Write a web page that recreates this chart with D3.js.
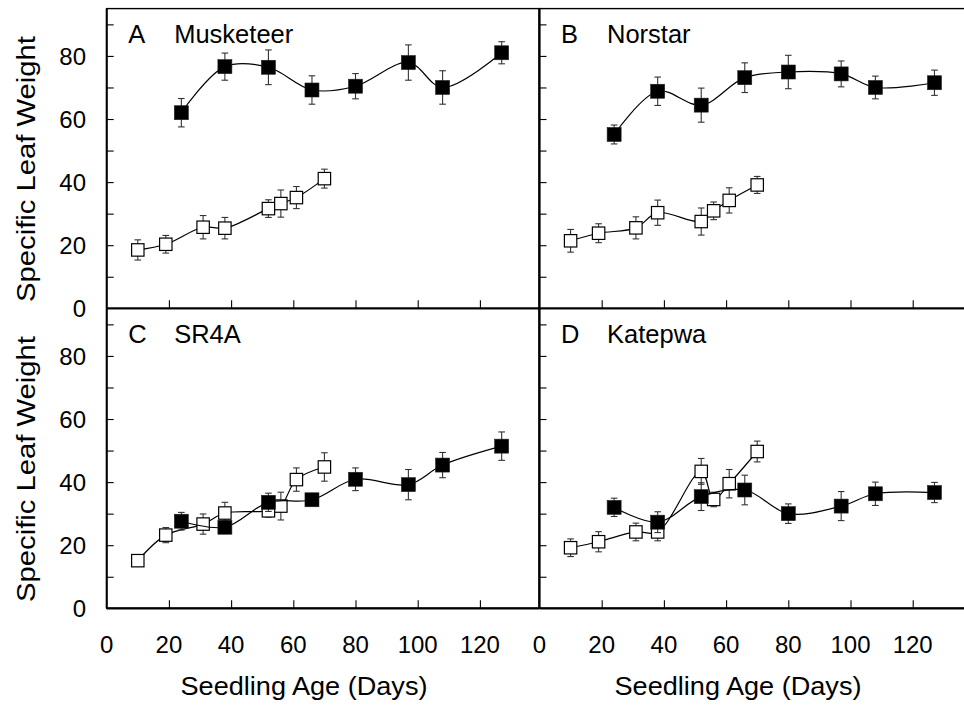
<!DOCTYPE html>
<html>
<head>
<meta charset="utf-8">
<script src="https://cdn.jsdelivr.net/npm/d3@7"></script>
<style>
  html, body { margin: 0; padding: 0; background: #fff; }
  svg { display: block; font-family: "Liberation Sans", Arial, Helvetica, sans-serif; }
</style>
</head>
<body>
<svg id="chart" width="964" height="707"></svg>
<script>
// Seedling age (days) at each sampling
const daysFilled = [24, 38, 52, 66, 80, 97, 108, 127];
const daysOpen   = [10, 19, 31, 38, 52, 56, 61, 70];

// Specific leaf weight, means and error half-widths
const musketeerFilled    = [62.0, 76.6, 76.4, 69.2, 70.4, 77.9, 70.0, 81.0];
const musketeerFilledErr = [4.5, 4.3, 5.5, 4.5, 4.0, 5.6, 5.3, 3.5];
const musketeerOpen      = [18.5, 20.3, 25.7, 25.4, 31.6, 33.2, 35.1, 41.1];
const musketeerOpenErr   = [3.2, 2.8, 3.7, 3.4, 2.8, 4.3, 3.5, 3.0];

const norstarFilled    = [55.1, 68.8, 64.4, 73.1, 74.9, 74.3, 70.0, 71.5];
const norstarFilledErr = [3.0, 4.5, 5.4, 4.7, 5.3, 4.1, 3.6, 4.0];
const norstarOpen      = [21.4, 23.8, 25.5, 30.3, 27.5, 30.9, 34.2, 39.1];
const norstarOpenErr   = [3.6, 3.0, 3.5, 4.0, 4.3, 2.8, 4.0, 2.7];

const sr4aFilled    = [27.6, 25.7, 33.6, 34.4, 40.9, 39.2, 45.4, 51.4];
const sr4aFilledErr = [2.8, 2.0, 2.9, 1.8, 3.6, 4.8, 4.0, 4.5];
const sr4aOpen      = [15.1, 23.2, 26.7, 30.2, 30.9, 32.4, 40.8, 44.8];
const sr4aOpenErr   = [1.5, 2.4, 3.2, 3.4, 2.0, 4.4, 3.7, 4.5];

const katepwaFilled    = [32.0, 27.3, 35.4, 37.5, 30.0, 32.4, 36.3, 36.7];
const katepwaFilledErr = [2.9, 3.3, 4.4, 4.7, 3.1, 4.6, 3.7, 3.2];
const katepwaOpen      = [19.2, 21.1, 24.2, 24.2, 43.4, 34.5, 39.5, 49.7];
const katepwaOpenErr   = [2.8, 3.2, 2.8, 2.8, 4.1, 2.3, 4.5, 3.3];

// Axis ticks and labels
const xTickValues = [0, 20, 40, 60, 80, 100, 120];
const yTickLabels = [0, 20, 40, 60, 80];
const yMinorTicks = [10, 20, 30, 40, 50, 60, 70, 80, 90];
const xTitle = "Seedling Age (Days)";
const yTitle = "Specific Leaf Weight";

const panels = [
  { letter: "A", name: "Musketeer", col: 0, row: 0,
    filled: musketeerFilled, filledErr: musketeerFilledErr, open: musketeerOpen, openErr: musketeerOpenErr },
  { letter: "B", name: "Norstar", col: 1, row: 0,
    filled: norstarFilled, filledErr: norstarFilledErr, open: norstarOpen, openErr: norstarOpenErr },
  { letter: "C", name: "SR4A", col: 0, row: 1,
    filled: sr4aFilled, filledErr: sr4aFilledErr, open: sr4aOpen, openErr: sr4aOpenErr },
  { letter: "D", name: "Katepwa", col: 1, row: 1,
    filled: katepwaFilled, filledErr: katepwaFilledErr, open: katepwaOpen, openErr: katepwaOpenErr }
];

// Layout
const colLeft = [106.7, 539.5];
const panelWidth = 432.3;
const rowBottom = [308.3, 608.3];
const panelHeight = 299.7;
const xMax = 139, yMax = 95;

const svg = d3.select("#chart");

const line = d3.line()
  .x(d => d.sx).y(d => d.sy)
  .curve(d3.curveCatmullRom.alpha(0.5));

panels.forEach(p => {
  const x0 = colLeft[p.col];
  const yb = rowBottom[p.row];
  const x = d3.scaleLinear().domain([0, xMax]).range([x0, x0 + panelWidth]);
  const y = d3.scaleLinear().domain([0, yMax]).range([yb, yb - panelHeight]);

  const g = svg.append("g");

  // frame
  g.append("rect")
    .attr("x", x0).attr("y", yb - panelHeight)
    .attr("width", panelWidth).attr("height", panelHeight)
    .attr("fill", "none").attr("stroke", "#000").attr("stroke-width", 1.4);

  // inward ticks
  const yAxis = d3.axisRight(y).tickValues(yMinorTicks).tickSize(7).tickFormat("");
  g.append("g").attr("transform", `translate(${x0},0)`).call(yAxis)
    .call(a => a.select(".domain").remove())
    .selectAll("line").attr("stroke", "#000").attr("stroke-width", 1.1);

  const xAxis = d3.axisTop(x).tickValues(xTickValues.filter(v => v > 0)).tickSize(8).tickFormat("");
  g.append("g").attr("transform", `translate(0,${yb})`).call(xAxis)
    .call(a => a.select(".domain").remove())
    .selectAll("line").attr("stroke", "#000").attr("stroke-width", 1.1);

  // heavier left and bottom axis lines
  g.append("line").attr("x1", x0).attr("x2", x0)
    .attr("y1", yb - panelHeight).attr("y2", yb)
    .attr("stroke", "#000").attr("stroke-width", 2);
  g.append("line").attr("x1", x0).attr("x2", x0 + panelWidth)
    .attr("y1", yb).attr("y2", yb)
    .attr("stroke", "#000").attr("stroke-width", p.row === 1 ? 2.2 : 1.8);

  // tick labels
  if (p.col === 0) {
    g.append("g").selectAll("text").data(yTickLabels).join("text")
      .attr("x", 86).attr("y", d => y(d)).attr("dy", "0.36em")
      .attr("text-anchor", "end").attr("font-size", 24).attr("fill", "#000")
      .text(d => d);
  }
  if (p.row === 1) {
    g.append("g").selectAll("text").data(xTickValues).join("text")
      .attr("x", d => x(d)).attr("y", 653)
      .attr("text-anchor", "middle").attr("font-size", 24).attr("fill", "#000")
      .text(d => d);
  }

  // panel label
  g.append("text").attr("x", x0 + 21.5).attr("y", yb - panelHeight + 34.5)
    .attr("font-size", 25.5).attr("fill", "#000").text(p.letter);
  g.append("text").attr("x", x0 + 67.5).attr("y", yb - panelHeight + 34.5)
    .attr("font-size", 25.5).attr("fill", "#000").text(p.name);

  const series = [
    { days: daysOpen, vals: p.open, errs: p.openErr, filled: false },
    { days: daysFilled, vals: p.filled, errs: p.filledErr, filled: true }
  ];

  series.forEach(s => {
    const pts = s.days.map((d, i) => ({
      sx: x(d), sy: y(s.vals[i]), hi: y(s.vals[i] + s.errs[i]), lo: y(s.vals[i] - s.errs[i])
    }));
    const sg = g.append("g");
    sg.append("path").attr("d", line(pts))
      .attr("fill", "none").attr("stroke", "#000").attr("stroke-width", 1.2);

    const eb = sg.append("g").attr("stroke", "#333").attr("stroke-width", 1.1);
    pts.forEach(pt => {
      eb.append("line").attr("x1", pt.sx).attr("x2", pt.sx).attr("y1", pt.hi).attr("y2", pt.lo);
      eb.append("line").attr("x1", pt.sx - 3.3).attr("x2", pt.sx + 3.3).attr("y1", pt.hi).attr("y2", pt.hi);
      eb.append("line").attr("x1", pt.sx - 3.3).attr("x2", pt.sx + 3.3).attr("y1", pt.lo).attr("y2", pt.lo);
    });

    if (s.filled) {
      sg.selectAll("rect.m").data(pts).join("rect").attr("class", "m")
        .attr("x", d => d.sx - 7).attr("y", d => d.sy - 7)
        .attr("width", 14).attr("height", 14)
        .attr("fill", "#000").attr("stroke", "#222").attr("stroke-width", 0.6);
    } else {
      sg.selectAll("rect.m").data(pts).join("rect").attr("class", "m")
        .attr("x", d => d.sx - 6.2).attr("y", d => d.sy - 6.2)
        .attr("width", 12.4).attr("height", 12.4)
        .attr("fill", "#fff").attr("stroke", "#000").attr("stroke-width", 1.2);
    }
  });
});

// axis titles
[304, 738].forEach(cx => {
  svg.append("text").attr("x", cx).attr("y", 695)
    .attr("text-anchor", "middle").attr("font-size", 26).attr("fill", "#000")
    .attr("textLength", 247).attr("lengthAdjust", "spacingAndGlyphs")
    .text(xTitle);
});
[169, 469].forEach(cy => {
  svg.append("text").attr("transform", `translate(35,${cy}) rotate(-90)`)
    .attr("text-anchor", "middle").attr("font-size", 26).attr("fill", "#000")
    .attr("textLength", 266).attr("lengthAdjust", "spacingAndGlyphs")
    .text(yTitle);
});
</script>
</body>
</html>
